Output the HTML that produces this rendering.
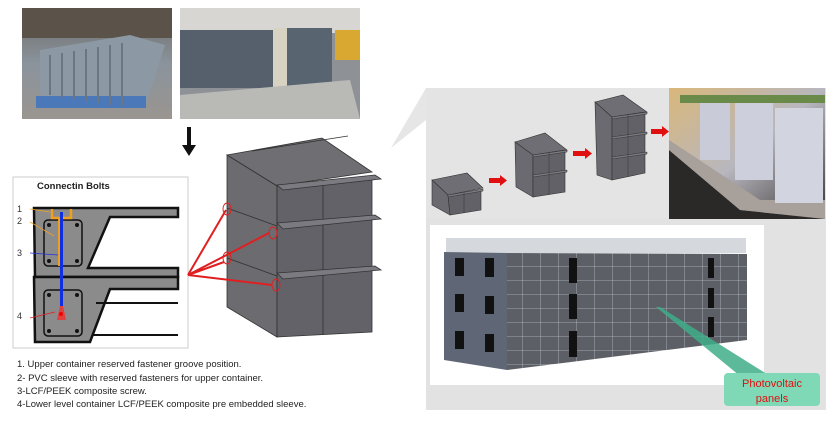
<!DOCTYPE html>
<html><head><meta charset="utf-8"><style>
html,body{margin:0;padding:0;background:#fff;}
svg{display:block;font-family:"Liberation Sans",sans-serif;}
</style></head><body>
<svg width="835" height="433" viewBox="0 0 835 433">
<defs>
<linearGradient id="p1" x1="0" y1="0" x2="0" y2="1"><stop offset="0" stop-color="#6b6a66"/><stop offset="0.5" stop-color="#8a939c"/><stop offset="1" stop-color="#9a9590"/></linearGradient>
<linearGradient id="sky" x1="0" y1="0" x2="1" y2="1"><stop offset="0" stop-color="#d9b77a"/><stop offset="0.5" stop-color="#b8b7bf"/><stop offset="1" stop-color="#3a3634"/></linearGradient>
<pattern id="grid" width="18" height="14" patternUnits="userSpaceOnUse"><rect width="18" height="14" fill="#5c5f66"/><path d="M0 0H18M0 0V14" stroke="#b8bcc4" stroke-width="0.8"/></pattern>
</defs>
<rect x="22" y="8" width="150" height="111" fill="url(#p1)"/>
<rect x="22" y="8" width="150" height="30" fill="#5b534a"/>
<polygon points="40,50 130,35 165,45 145,108 40,95" fill="#8c98a3"/>
<rect x="36" y="96" width="110" height="12" fill="#4a78b8"/>
<g stroke="#6c7680" stroke-width="2"><path d="M50 55V95M62 53V97M74 51V99M86 49V101M98 47V103M110 45V105M122 43V106"/></g>
<rect x="180" y="8" width="180" height="111" fill="#8e9196"/>
<rect x="180" y="8" width="180" height="25" fill="#d8d6d2"/>
<rect x="180" y="30" width="95" height="58" fill="#55606c"/>
<rect x="273" y="28" width="40" height="62" fill="#d8d2c2"/>
<rect x="287" y="28" width="45" height="64" fill="#586470"/>
<rect x="335" y="30" width="25" height="30" fill="#d8a830"/>
<polygon points="180,95 350,80 360,119 180,119" fill="#b9b9b6"/>
<rect x="187" y="127" width="4" height="20" fill="#111"/>
<polygon points="182,145 196,145 189,156" fill="#111"/>
<rect x="13" y="177" width="175" height="171" fill="#fff" stroke="#ccc"/>
<text x="37" y="189" font-size="9.5" font-weight="bold" fill="#222">Connectin Bolts</text>
<g fill="#333" font-size="9">
<text x="17" y="212">1</text><text x="17" y="224">2</text><text x="17" y="256">3</text><text x="17" y="319">4</text></g>
<path d="M34 208 H178 V217 H110 L88 268 H178 V277 H35 Z" fill="#8b8b8b" stroke="#111" stroke-width="2.5"/>
<path d="M34 277 H178 V289 H110 L90 342 H35 Z" fill="#8b8b8b" stroke="#111" stroke-width="2.5"/>
<path d="M88 268 H178 M96 303 H178 M92 335 H178" stroke="#111" stroke-width="2"/>
<rect x="44" y="220" width="38" height="46" rx="4" fill="none" stroke="#111" stroke-width="1.5"/>
<rect x="44" y="290" width="38" height="46" rx="4" fill="none" stroke="#111" stroke-width="1.5"/>
<g fill="#111"><circle cx="49" cy="225" r="2"/><circle cx="77" cy="225" r="2"/><circle cx="49" cy="261" r="2"/><circle cx="77" cy="261" r="2"/><circle cx="49" cy="295" r="2"/><circle cx="77" cy="295" r="2"/><circle cx="49" cy="331" r="2"/><circle cx="77" cy="331" r="2"/></g>
<path d="M52 209 V218 H71 V209" fill="none" stroke="#f0a020" stroke-width="2.5"/>
<rect x="58" y="218" width="2" height="48" fill="#f0a020"/>
<rect x="60" y="212" width="3" height="102" fill="#1030e0"/>
<polygon points="57,320 66,320 63,306 60,306" fill="#e04040"/>
<circle cx="61" cy="314" r="2" fill="#e00"/>
<g stroke-width="0.8"><path d="M30 209 L50 212" stroke="#f0a020"/><path d="M30 222 L54 236" stroke="#f0a020"/><path d="M30 253 L58 255" stroke="#2030e0"/><path d="M30 318 L55 312" stroke="#e02020"/></g>
<g font-size="9.5" fill="#222">
<text x="17" y="367">1. Upper container reserved fastener groove position.</text>
<text x="17" y="381">2- PVC sleeve with reserved fasteners for upper container.</text>
<text x="17" y="394">3-LCF/PEEK composite screw.</text>
<text x="17" y="407">4-Lower level container LCF/PEEK composite pre embedded sleeve.</text></g>
<polygon points="227,155 322,138 372,172 277,186" fill="#6e6e73" stroke="#333" stroke-width="0.8"/>
<path d="M252 151 L348 136" stroke="#333" stroke-width="0.8"/>
<polygon points="227,155 277,186 277,337 227,307" fill="#6b6b70" stroke="#333" stroke-width="0.8"/>
<polygon points="277,186 372,176 372,332 277,337" fill="#626268" stroke="#333" stroke-width="0.8"/>
<path d="M323 182 V335" stroke="#333" stroke-width="0.8"/>
<path d="M227 208 L277 226 M227 258 L277 276" stroke="#333" stroke-width="0.8"/>
<g fill="#7a7a80" stroke="#333" stroke-width="0.8">
<polygon points="277,185 375,175 381,179 283,190"/>
<polygon points="277,223 375,215 381,219 283,229"/>
<polygon points="277,273 375,266 381,270 283,279"/></g>
<g fill="none" stroke="#e02020" stroke-width="1"><ellipse cx="227" cy="209" rx="4" ry="6"/><ellipse cx="273" cy="233" rx="4" ry="6"/><ellipse cx="227" cy="258" rx="4" ry="6"/><ellipse cx="276" cy="285" rx="4" ry="6"/></g>
<g stroke="#e02020" stroke-width="2"><path d="M188 275 L226 210 M188 275 L269 233 M188 275 L224 262 M188 275 L272 285"/></g>
<polygon points="391,148 426,88 426,120" fill="#e6e6e6"/>
<rect x="426" y="88" width="400" height="322" fill="#e2e2e2"/>
<rect x="426" y="88" width="243" height="130" fill="#e4e4e4"/>
<rect x="669" y="88" width="156" height="131" fill="url(#sky)"/>
<polygon points="669,150 740,210 825,219 669,219" fill="#2a2928"/>
<polygon points="669,140 760,200 825,200 825,219 740,210 669,150" fill="#a8a09a"/>
<rect x="700" y="100" width="30" height="60" fill="#c9ccd8"/><rect x="735" y="100" width="38" height="80" fill="#cdd0dc"/><rect x="775" y="108" width="48" height="95" fill="#d2d5e0"/>
<rect x="680" y="95" width="145" height="8" fill="#6a8a4a"/>
<g stroke="#333" stroke-width="0.6">
<polygon points="432,180 467,173 483,188 448,195" fill="#6e6e74"/><polygon points="432,180 448,195 450,215 432,205" fill="#6a6a70"/><polygon points="448,195 481,190 481,210 450,215" fill="#616167"/>
<polygon points="515,142 545,133 567,150 533,155" fill="#6e6e74"/><polygon points="515,142 533,155 533,197 516,187" fill="#6a6a70"/><polygon points="533,155 565,150 565,192 533,197" fill="#616167"/>
<polygon points="595,102 623,95 647,112 612,117" fill="#6e6e74"/><polygon points="595,102 612,117 612,180 597,175" fill="#6a6a70"/><polygon points="612,117 645,112 645,173 612,180" fill="#616167"/>
</g>
<g fill="#7a7a80" stroke="#333" stroke-width="0.5">
<polygon points="448,195 483,189 483,191 448,197"/>
<polygon points="533,155 567,150 567,152 533,157"/><polygon points="533,175 567,170 567,172 533,177"/>
<polygon points="612,117 647,112 647,114 612,119"/><polygon points="612,137 647,132 647,134 612,139"/><polygon points="612,157 647,152 647,154 612,159"/></g>
<g stroke="#333" stroke-width="0.5" fill="none"><path d="M464 193 V213 M549 153 V195 M628 115 V177"/></g>
<g fill="#e01010"><rect x="489" y="178" width="12" height="5"/><polygon points="500,175 507,180.5 500,186"/>
<rect x="573" y="151" width="13" height="5"/><polygon points="585,148 592,153.5 585,159"/>
<rect x="651" y="129" width="12" height="5"/><polygon points="662,126 669,131.5 662,137"/></g>
<rect x="430" y="225" width="334" height="160" fill="#fff"/>
<rect x="446" y="238" width="300" height="15" fill="#d5d8dc"/>
<polygon points="444,252 507,253 507,370 444,360" fill="#5f6776"/>
<polygon points="507,253 747,254 747,340 507,370" fill="url(#grid)"/>
<g fill="#111"><rect x="455" y="258" width="9" height="18"/><rect x="485" y="258" width="9" height="19"/><rect x="455" y="294" width="9" height="18"/><rect x="485" y="296" width="9" height="18"/><rect x="455" y="331" width="9" height="18"/><rect x="485" y="334" width="9" height="18"/>
<rect x="569" y="258" width="8" height="25"/><rect x="569" y="294" width="8" height="25"/><rect x="569" y="331" width="8" height="26"/>
<rect x="708" y="258" width="6" height="20"/><rect x="708" y="288" width="6" height="20"/><rect x="708" y="317" width="6" height="20"/></g>
<polygon points="656,307 660,307 770,376 740,376" fill="#3fae8a" opacity="0.85"/>
<rect x="724" y="373" width="96" height="33" rx="4" fill="#7fd8b6"/>
<text x="772" y="387" font-size="11" fill="#e01010" text-anchor="middle">Photovoltaic</text>
<text x="772" y="402" font-size="11" fill="#e01010" text-anchor="middle">panels</text>
</svg>
</body></html>
